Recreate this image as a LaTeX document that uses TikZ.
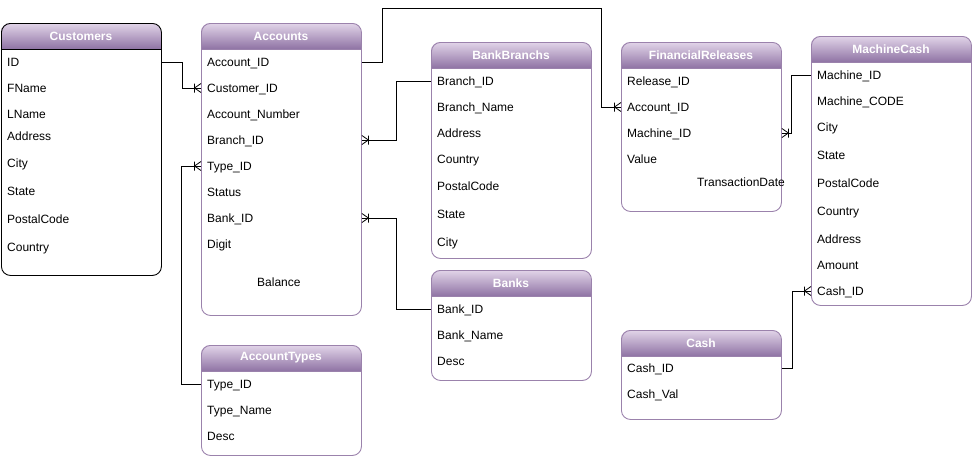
\documentclass[tikz,border=0pt]{standalone}
\usepackage{fontspec}
\setmainfont{Liberation Sans}
\usetikzlibrary{arrows.meta}

\definecolor{hdtop}{RGB}{226,213,233}
\definecolor{hdbot}{RGB}{143,115,164}
\definecolor{tblline}{RGB}{155,130,172}

% crow's foot (many) end
\pgfdeclarearrow{
  name = Crow,
  parameters = {\the\pgfarrowlength,\the\pgfarrowwidth},
  setup code = {
    \pgfarrowssettipend{0pt}
    \pgfarrowssetlineend{0pt}
    \pgfarrowssetbackend{-\pgfarrowlength}
    \pgfarrowssavethe\pgfarrowlength
    \pgfarrowssavethe\pgfarrowwidth
  },
  drawing code = {
    \pgfsetdash{}{0pt}
    \pgfpathmoveto{\pgfpoint{0pt}{.5\pgfarrowwidth}}
    \pgfpathlineto{\pgfpoint{-\pgfarrowlength}{0pt}}
    \pgfpathlineto{\pgfpoint{0pt}{-.5\pgfarrowwidth}}
    \pgfpathmoveto{\pgfpoint{-\pgfarrowlength}{.5\pgfarrowwidth}}
    \pgfpathlineto{\pgfpoint{-\pgfarrowlength}{-.5\pgfarrowwidth}}
    \pgfusepathqstroke
  },
  defaults = {length = 6.5pt, width = 9pt}
}

\tikzset{
  tbl/.style={rectangle, line width=0.9pt, rounded corners=9pt,
    minimum width=160pt, inner sep=0pt, anchor=north west},
  fld/.style={anchor=west, inner sep=0pt, text height=8.6pt, text depth=0pt},
  hdtxt/.style={text=white, font=\fontsize{12pt}{14pt}\selectfont\bfseries},
  rel/.style={line width=0.8pt, -{Crow[]}}
}

% #1 name, #2 x, #3 top, #4 height, #5 title, #6 border colour
\newcommand{\erbox}[6]{%
  \begin{scope}
    \clip[rounded corners=9pt] (#2,#3) rectangle ++(160,#4);
    \shade[top color=hdtop, bottom color=hdbot] (#2,#3) rectangle ++(160,26);
  \end{scope}
  \draw[#6, line width=0.9pt] (#2,#3+26) -- ++(160,0);
  \node[tbl, draw=#6, minimum height=#4pt] (#1) at (#2,#3) {};
  \node[hdtxt] at (#2+80,#3+13) {#5};
}

\begin{document}
\begin{tikzpicture}[x=1pt, y=-1pt, font=\fontsize{12pt}{14pt}\selectfont]
  \useasboundingbox (0,0) rectangle (974,458);

  \erbox{cu}{1}{23}{252}{Customers}{black}
  \erbox{ac}{201}{23}{292}{Accounts}{tblline}
  \erbox{br}{431}{42}{216}{BankBranchs}{tblline}
  \erbox{bk}{431}{270}{110}{Banks}{tblline}
  \erbox{ty}{201}{345}{110}{AccountTypes}{tblline}
  \erbox{fr}{621}{42}{169}{FinancialReleases}{tblline}
  \erbox{mc}{811}{36}{269}{MachineCash}{tblline}
  \erbox{ca}{621}{330}{89}{Cash}{tblline}

  % fields
  \foreach \y/\fname [count=\i] in {62/ID, 88/FName, 114/LName, 136/Address,
      163/City, 191/State, 219/PostalCode, 247/Country}
    \node[fld] (cu\i) at (7,\y) {\fname};
  \foreach \y/\fname [count=\i] in {62/Account\_ID, 88/Customer\_ID,
      114/Account\_Number, 140/Branch\_ID, 166/Type\_ID, 192/Status,
      218/Bank\_ID, 244/Digit}
    \node[fld] (ac\i) at (207,\y) {\fname};
  \node[fld] (ac9) at (257,282) {Balance};
  \foreach \y/\fname [count=\i] in {81/Branch\_ID, 107/Branch\_Name,
      133/Address, 159/Country, 186/PostalCode, 214/State, 242/City}
    \node[fld] (br\i) at (437,\y) {\fname};
  \foreach \y/\fname [count=\i] in {309/Bank\_ID, 335/Bank\_Name, 361/Desc}
    \node[fld] (bk\i) at (437,\y) {\fname};
  \foreach \y/\fname [count=\i] in {384/Type\_ID, 410/Type\_Name, 436/Desc}
    \node[fld] (ty\i) at (207,\y) {\fname};
  \foreach \y/\fname [count=\i] in {81/Release\_ID, 107/Account\_ID,
      133/Machine\_ID, 159/Value}
    \node[fld] (fr\i) at (627,\y) {\fname};
  \node[fld] (fr5) at (697,182) {TransactionDate};
  \foreach \y/\fname [count=\i] in {75/Machine\_ID, 101/Machine\_CODE,
      127/City, 155/State, 183/PostalCode, 211/Country, 239/Address,
      265/Amount, 291/Cash\_ID}
    \node[fld] (mc\i) at (817,\y) {\fname};
  \foreach \y/\fname [count=\i] in {368/Cash\_ID, 394/Cash\_Val}
    \node[fld] (ca\i) at (627,\y) {\fname};

  % relations
  \coordinate (acfr) at (601,8);
  \draw[rel] (cu.east |- cu1) -- ++(20,0) |- (ac.west |- ac2);
  \draw[rel] (ac.east |- ac1) -- ++(20,0) |- (acfr) |- (fr.west |- fr2);
  \draw[rel] (br.west |- br1) -- ++(-35,0) |- (ac.east |- ac4);
  \draw[rel] (bk.west |- bk1) -- ++(-35,0) |- (ac.east |- ac7);
  \draw[rel] (ty.west |- ty1) -- ++(-20,0) |- (ac.west |- ac5);
  \draw[rel] (mc.west |- mc1) -- ++(-20,0) |- (fr.east |- fr3);
  \draw[rel] (ca.east |- ca1) -- ++(10.5,0) |- (mc.west |- mc9);
\end{tikzpicture}
\end{document}
